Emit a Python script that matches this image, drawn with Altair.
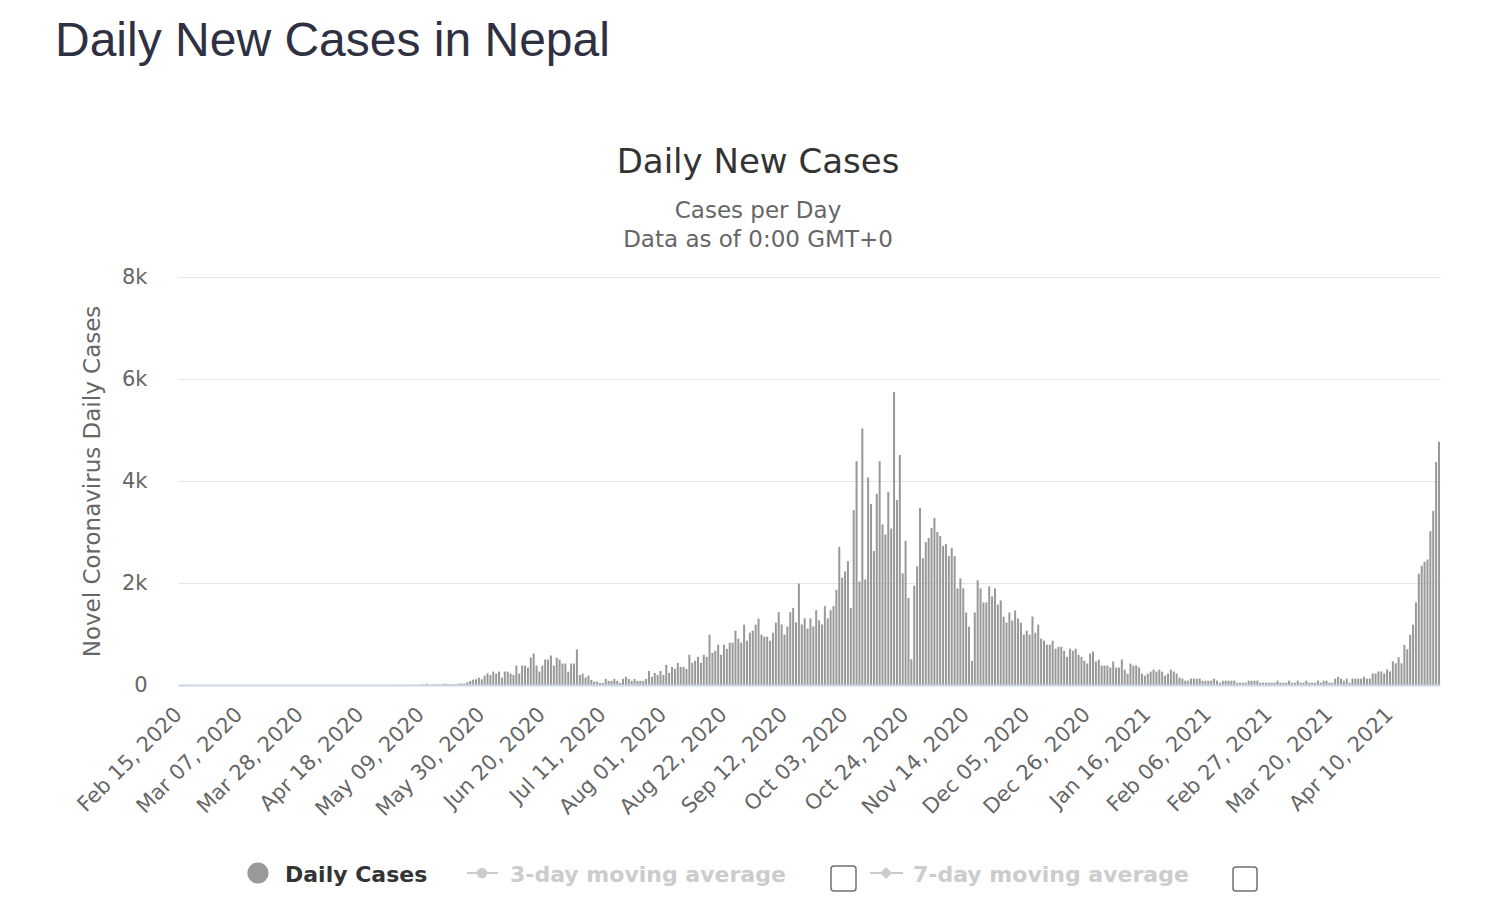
import altair as alt
import pandas as pd

# ---------------------------------------------------------------------------
# Daily new cases (one list per month)
# ---------------------------------------------------------------------------
FEB_2020 = [0, 0, 0, 0, 0, 0, 0, 0, 0, 0, 0, 0, 0, 0, 0]
MAR_2020 = [0, 0, 0, 0, 0, 0, 0, 0, 0, 0, 0, 0, 0, 0, 0, 0,
            0, 0, 0, 0, 0, 0, 0, 0, 0, 0, 0, 0, 0, 0, 0]
APR_2020 = [0, 0, 0, 0, 0, 0, 0, 0, 0, 0, 0, 0, 0, 0, 0,
            0, 0, 0, 0, 0, 0, 0, 0, 0, 0, 0, 0, 0, 0, 0]
MAY_2020 = [3, 0, 2, 5, 6, 3, 2, 1, 10, 8, 26, 6, 9, 15, 12, 10,
            26, 14, 18, 12, 20, 26, 30, 26, 53, 79, 105, 112, 145, 112, 184]
JUN_2020 = [230, 197, 263, 223, 263, 145, 263, 263, 223, 197, 381, 223, 381, 381, 342,
            539, 618, 381, 263, 381, 499, 499, 578, 381, 539, 499, 420, 420, 263, 420]
JUL_2020 = [420, 696, 197, 223, 145, 184, 100, 66, 66, 40, 40, 120, 80, 80, 120, 80,
            40, 120, 160, 120, 80, 120, 80, 80, 80, 120, 276, 160, 237, 197, 276]
AUG_2020 = [197, 395, 237, 355, 316, 434, 355, 355, 316, 592, 434, 474, 553, 434, 592, 553,
            987, 632, 671, 790, 592, 790, 711, 829, 829, 1066, 908, 829, 1184, 869, 1026]
SEP_2020 = [1066, 1184, 1303, 987, 948, 948, 869, 1026, 1224, 1427, 1187, 987, 1147, 1427, 1507,
            1227, 1988, 1187, 1307, 1107, 1307, 1147, 1467, 1267, 1187, 1547, 1307, 1467, 1547, 1867]
OCT_2020 = [2708, 2108, 2228, 2428, 1507, 3428, 4389, 2028, 5029, 2068, 4069, 3548, 2628, 3749, 4389,
            3148, 2948, 3789, 3068, 5743, 3628, 4509, 2188, 2828, 1707, 507, 1947, 2329, 3474, 2487, 2803]
NOV_2020 = [2882, 3080, 3277, 3000, 2922, 2724, 2764, 2527, 2685, 2527, 1895, 2092, 1895, 1421, 1145,
            474, 1421, 2053, 1895, 1619, 1619, 1935, 1737, 1895, 1579, 1658, 1342, 1224, 1421, 1263]
DEC_2020 = [1461, 1303, 1224, 987, 1066, 987, 1342, 1026, 1184, 908, 869, 790, 790, 869, 711, 750,
            750, 671, 553, 711, 671, 711, 592, 553, 474, 420, 618, 657, 460, 499, 381]
JAN_2021 = [381, 381, 342, 460, 342, 342, 499, 302, 223, 420, 381, 381, 342, 223, 184, 223,
            263, 302, 263, 302, 263, 184, 223, 302, 263, 223, 145, 125, 85, 85, 125]
FEB_2021 = [125, 125, 125, 85, 85, 85, 85, 125, 85, 45, 85, 85, 85, 85,
            85, 45, 45, 45, 45, 85, 85, 85, 85, 45, 45, 45, 45, 45]
MAR_2021 = [45, 85, 45, 45, 45, 85, 45, 45, 85, 45, 45, 85, 45, 45, 45, 85,
            45, 85, 85, 45, 45, 125, 160, 125, 85, 125, 45, 125, 125, 125, 125]
APR_2021 = [160, 125, 125, 226, 226, 266, 266, 226, 306, 266, 465, 425, 545, 425,
            784, 704, 983, 1183, 1621, 2180, 2339, 2419, 2459, 3017, 3416, 4372, 4771]

TICK_DATES = ["Feb 15, 2020", "Mar 07, 2020", "Mar 28, 2020", "Apr 18, 2020",
              "May 09, 2020", "May 30, 2020", "Jun 20, 2020", "Jul 11, 2020",
              "Aug 01, 2020", "Aug 22, 2020", "Sep 12, 2020", "Oct 03, 2020",
              "Oct 24, 2020", "Nov 14, 2020", "Dec 05, 2020", "Dec 26, 2020",
              "Jan 16, 2021", "Feb 06, 2021", "Feb 27, 2021", "Mar 20, 2021",
              "Apr 10, 2021"]
Y_TICKS = [0, 2000, 4000, 6000, 8000]

cases = (FEB_2020 + MAR_2020 + APR_2020 + MAY_2020 + JUN_2020 + JUL_2020 + AUG_2020
         + SEP_2020 + OCT_2020 + NOV_2020 + DEC_2020 + JAN_2021 + FEB_2021 + MAR_2021
         + APR_2021)
dates = pd.date_range("2020-02-15", periods=len(cases)).strftime("%b %d, %Y")
df = pd.DataFrame({"date": dates, "cases": cases})

FONT = "DejaVu Sans"
GREY = "#666666"
HIDDEN = "#cccccc"
ONE = alt.Data(values=[{"k": 0}])

# ---------------------------------------------------------------------------
# Bars
# ---------------------------------------------------------------------------
bars = alt.Chart(df).mark_bar(color="#999999").encode(
    x=alt.X(
        "date:O", sort=None, title="",
        scale=alt.Scale(paddingInner=0.3, paddingOuter=0),
        axis=alt.Axis(values=TICK_DATES, labelAngle=-45, labelAlign="right",
                      labelBaseline="middle", labelPadding=26, labelOverlap=False,
                      labelFontSize=21, labelColor=GREY, labelFont=FONT,
                      ticks=False, grid=False, domainColor="#ccd6eb",
                      domainWidth=2, zindex=1),
    ),
    y=alt.Y(
        "cases:Q", title="Novel Coronavirus Daily Cases",
        scale=alt.Scale(domain=[0, 8000]),
        axis=alt.Axis(values=Y_TICKS,
                      labelExpr="datum.value == 0 ? '0' : (datum.value / 1000) + 'k'",
                      domain=False, ticks=False,
                      gridColor="#e6e6e6", labelFontSize=21, labelColor=GREY,
                      labelFont=FONT, labelPadding=31, titleFontSize=23,
                      titleColor=GREY, titleFont=FONT, titleFontWeight="normal",
                      titleX=-86, titleY=204, titleAlign="center",
                      titleBaseline="middle"),
    ),
)


def text(label, x, y, size, color, weight="normal", align="left", font=FONT):
    return alt.Chart(ONE).mark_text(
        text=label, font=font, fontSize=size, color=color, fontWeight=weight,
        align=align, baseline="alphabetic",
    ).encode(x=alt.value(x), y=alt.value(y))


# headings (positions relative to the plot's top-left corner)
header = text("Daily New Cases in Nepal", -123, -221, 48, "#2f3142",
              font="Liberation Sans")
title = text("Daily New Cases", 580, -104, 34, "#333333", align="center")
sub1 = text("Cases per Day", 580, -59, 23, GREY, align="center")
sub2 = text("Data as of 0:00 GMT+0", 580, -30, 23, GREY, align="center")

# legend drawn by hand, Highcharts style
LEG_Y = 596
dot = alt.Chart(ONE).mark_point(shape="circle", filled=True, size=450,
                                color="#999999", opacity=1).encode(
    x=alt.value(80), y=alt.value(LEG_Y))
leg1 = text("Daily Cases", 107, LEG_Y + 9, 22, "#333333", weight="bold")

line3 = alt.Chart(ONE).mark_rule(color=HIDDEN, strokeWidth=2).encode(
    x=alt.value(289), x2=alt.value(320), y=alt.value(LEG_Y))
pt3 = alt.Chart(ONE).mark_point(shape="circle", filled=True, size=110,
                                color=HIDDEN, opacity=1).encode(
    x=alt.value(304), y=alt.value(LEG_Y))
leg3 = text("3-day moving average", 332, LEG_Y + 9, 22, HIDDEN, weight="bold")
box3 = alt.Chart(ONE).mark_rect(fill="white", stroke="#707070", strokeWidth=1.5,
                                cornerRadius=3).encode(
    x=alt.value(653), x2=alt.value(678), y=alt.value(589), y2=alt.value(614))

line7 = alt.Chart(ONE).mark_rule(color=HIDDEN, strokeWidth=2).encode(
    x=alt.value(692), x2=alt.value(725), y=alt.value(LEG_Y))
pt7 = alt.Chart(ONE).mark_point(shape="diamond", filled=True, size=150,
                                color=HIDDEN, opacity=1).encode(
    x=alt.value(708), y=alt.value(LEG_Y))
leg7 = text("7-day moving average", 735, LEG_Y + 9, 22, HIDDEN, weight="bold")
box7 = alt.Chart(ONE).mark_rect(fill="white", stroke="#707070", strokeWidth=1.5,
                                cornerRadius=3).encode(
    x=alt.value(1055), x2=alt.value(1079), y=alt.value(590), y2=alt.value(614))

chart = (
    alt.layer(bars, header, title, sub1, sub2, dot, leg1, line3, pt3, leg3, box3,
              line7, pt7, leg7, box7)
    .properties(
        width=1262, height=408,
        padding={"left": 170, "top": 269, "right": 30, "bottom": 215},
        autosize=alt.AutoSizeParams(type="none"),
        background="white",
    )
    .configure_view(strokeWidth=0)
)

chart.save("out.html", embed_options={"renderer": "svg", "actions": False})
